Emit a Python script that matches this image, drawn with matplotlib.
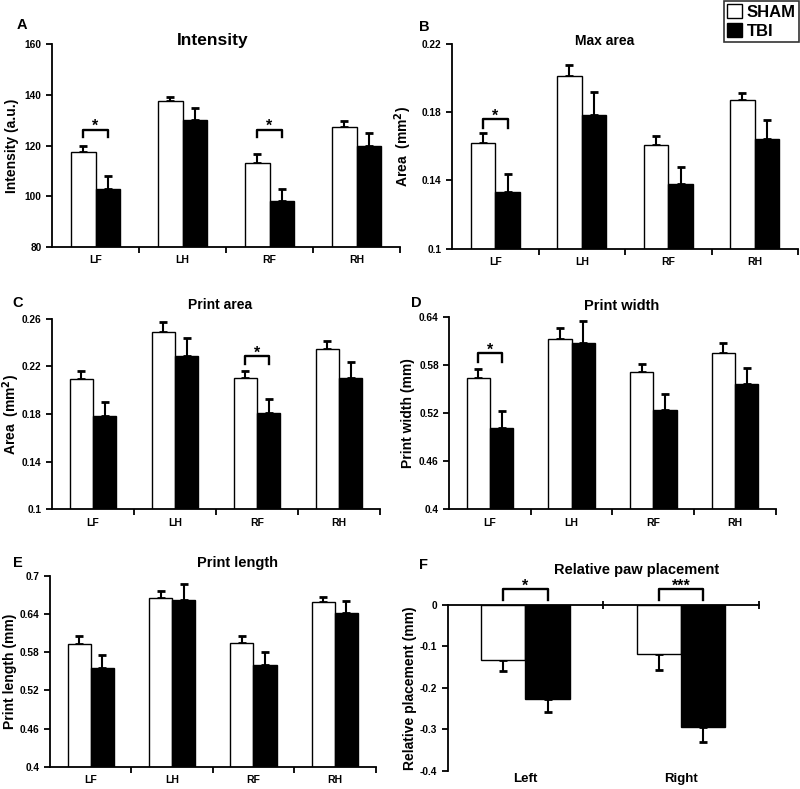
import numpy as np
import matplotlib
matplotlib.use("Agg")
import matplotlib.pyplot as plt
from matplotlib.patches import Patch

plt.rcParams["font.family"] = ["Liberation Sans", "DejaVu Sans"]
plt.rcParams["font.weight"] = "bold"

paws = ["LF", "LH", "RF", "RH"]
sides = ["Left", "Right"]

# A - intensity
int_sham = [117.5, 137.5, 113.0, 127.5]
int_sham_err = [2.2, 1.8, 3.7, 2.0]
int_tbi = [103.0, 130.0, 98.0, 120.0]
int_tbi_err = [4.8, 4.7, 4.7, 5.0]

# B - max area
max_sham = [0.162, 0.2016, 0.1606, 0.187]
max_sham_err = [0.006, 0.006, 0.0053, 0.0046]
max_tbi = [0.1333, 0.1784, 0.1378, 0.1641]
max_tbi_err = [0.0102, 0.0136, 0.0098, 0.0114]

# C - print area
pa_sham = [0.209, 0.2488, 0.2102, 0.2348]
pa_sham_err = [0.0074, 0.0082, 0.0062, 0.0065]
pa_tbi = [0.178, 0.2287, 0.1806, 0.2105]
pa_tbi_err = [0.012, 0.0153, 0.0117, 0.0129]

# D - print width
pw_sham = [0.5642, 0.6125, 0.5712, 0.595]
pw_sham_err = [0.0116, 0.0145, 0.0105, 0.0125]
pw_tbi = [0.5013, 0.6079, 0.5237, 0.5563]
pw_tbi_err = [0.0216, 0.0271, 0.0205, 0.0208]

# E - print length
pl_sham = [0.5925, 0.6659, 0.594, 0.6591]
pl_sham_err = [0.0126, 0.010, 0.0111, 0.0084]
pl_tbi = [0.5558, 0.6622, 0.56, 0.6413]
pl_tbi_err = [0.0199, 0.0257, 0.0199, 0.0194]

# F - relative paw placement
rp_sham = [-0.1333, -0.1189]
rp_sham_err = [0.0257, 0.0377]
rp_tbi = [-0.228, -0.294]
rp_tbi_err = [0.0298, 0.0377]

W = 0.285


def px(x, y):
    return x / 800, 1 - y / 789


def bars(ax, sham, sham_err, tbi, tbi_err, up=True):
    n = len(sham)
    c = np.arange(n) + 0.5
    for xs, vals, errs, fc in [(c - W / 2, sham, sham_err, "white"),
                               (c + W / 2, tbi, tbi_err, "black")]:
        ax.bar(xs, vals, W, color=fc, edgecolor="black", lw=1.0, zorder=2)
        z = [0] * n
        yerr = [z, errs] if up else [errs, z]
        ax.errorbar(xs, vals, yerr=yerr, fmt="none", ecolor="black",
                    elinewidth=1.5, capsize=2.8, capthick=2.0, zorder=1)
    ax.set_xlim(0, n)
    ax.set_xticks(np.arange(1, n + 1))
    ax.set_xticklabels([])
    ax.tick_params(axis="x", which="major", length=4, width=1.3, direction="out")
    ax.set_xticks(c, minor=True)
    for s in ["top", "right"]:
        ax.spines[s].set_visible(False)
    for s in ["left", "bottom"]:
        ax.spines[s].set_linewidth(1.3)
    ax.tick_params(axis="y", length=4, width=1.3, labelsize=7.3)
    return c


def bracket(ax, i, top, bottom, label="*"):
    x0, x1 = i + 0.5 - W / 2, i + 0.5 + W / 2
    ax.plot([x0, x0, x1, x1], [bottom, top, top, bottom], color="black",
            lw=1.7, clip_on=False, zorder=3)
    ax.annotate(label, (i + 0.5, top), xytext=(0, -3), textcoords="offset points",
                ha="center", va="bottom", fontsize=11.5, fontweight="bold",
                annotation_clip=False)


def ylab(ax, yt, text, lx):
    ax.set_yticks(yt)
    ax.set_yticklabels([f"{v:g}" for v in yt])
    ax.set_ylim(yt[0], yt[-1])
    ax.set_ylabel(text, fontsize=10, fontweight="bold")
    ax.yaxis.set_label_coords(lx, 0.5)


def xlab(ax, labels):
    ax.set_xticklabels(labels, minor=True, fontsize=7.5)
    ax.tick_params(axis="x", which="minor", length=0, pad=6)


fig = plt.figure(figsize=(8, 7.89), dpi=100)

axA = fig.add_axes([0.065, 0.687, 0.435, 0.257])
bars(axA, int_sham, int_sham_err, int_tbi, int_tbi_err)
xlab(axA, paws)
ylab(axA, [80, 100, 120, 140, 160], "Intensity (a.u.)", -0.095)
bracket(axA, 0, 126.2, 123.3)
bracket(axA, 2, 126.2, 123.3)
axA.text(0.463, 1.02, "Intensity", transform=axA.transAxes, ha="center",
         va="center", fontsize=12.5, fontweight="bold")

axB = fig.add_axes([0.565, 0.685, 0.4325, 0.259])
bars(axB, max_sham, max_sham_err, max_tbi, max_tbi_err)
xlab(axB, paws)
ylab(axB, [0.1, 0.14, 0.18, 0.22], "Area  (mm$^\\mathbf{2}$)", -0.11)
bracket(axB, 0, 0.1759, 0.171)
axB.text(0.442, 1.015, "Max area", transform=axB.transAxes, ha="center",
         va="center", fontsize=10, fontweight="bold")

axC = fig.add_axes([0.065, 0.3545, 0.41, 0.2416])
bars(axC, pa_sham, pa_sham_err, pa_tbi, pa_tbi_err)
xlab(axC, paws)
ylab(axC, [0.1, 0.14, 0.18, 0.22, 0.26], "Area  (mm$^\\mathbf{2}$)", -0.092)
bracket(axC, 2, 0.2284, 0.2217)
axC.text(0.512, 1.072, "Print area", transform=axC.transAxes, ha="center",
         va="center", fontsize=10, fontweight="bold")

axD = fig.add_axes([0.5616, 0.3545, 0.408, 0.2433])
bars(axD, pw_sham, pw_sham_err, pw_tbi, pw_tbi_err)
xlab(axD, paws)
ylab(axD, [0.4, 0.46, 0.52, 0.58, 0.64], "Print width (mm)", -0.104)
bracket(axD, 0, 0.595, 0.5838)
axD.text(0.528, 1.06, "Print width", transform=axD.transAxes, ha="center",
         va="center", fontsize=10.5, fontweight="bold")

axE = fig.add_axes([0.0625, 0.0283, 0.407, 0.2417])
bars(axE, pl_sham, pl_sham_err, pl_tbi, pl_tbi_err)
xlab(axE, paws)
ylab(axE, [0.4, 0.46, 0.52, 0.58, 0.64, 0.7], "Print length (mm)", -0.1)
axE.text(0.577, 1.07, "Print length", transform=axE.transAxes, ha="center",
         va="center", fontsize=10.5, fontweight="bold")

axF = fig.add_axes([0.5596, 0.0232, 0.389, 0.2104])
cF = bars(axF, rp_sham, rp_sham_err, rp_tbi, rp_tbi_err, up=False)
axF.spines["bottom"].set_position(("data", 0))
axF.tick_params(axis="x", which="major", direction="inout", length=6)
yt = [-0.4, -0.3, -0.2, -0.1, 0]
axF.set_yticks(yt)
axF.set_yticklabels([f"{v:g}" for v in yt])
axF.set_ylim(-0.4, 0)
axF.set_ylabel("Relative placement (mm)", fontsize=10, fontweight="bold")
axF.yaxis.set_label_coords(-0.1, 0.5)
for c, s in zip(cF, sides):
    axF.text(c, -0.405, s, ha="center", va="top", fontsize=9.5, fontweight="bold")
bracket(axF, 0, 0.037, 0.0104)
bracket(axF, 1, 0.037, 0.0104, "***")
axF.text(0.608, 1.21, "Relative paw placement", transform=axF.transAxes,
         ha="center", va="center", fontsize=10.5, fontweight="bold")

for lab, (x, y) in zip("ABCDEF", [(22, 25), (424, 27), (18, 303), (416, 303),
                                  (18, 563), (423, 565)]):
    fx, fy = px(x, y)
    fig.text(fx, fy, lab, ha="center", va="center", fontsize=10.5, fontweight="bold")

handles = [Patch(facecolor="white", edgecolor="black", label="SHAM"),
           Patch(facecolor="black", edgecolor="black", label="TBI")]
leg = fig.legend(handles=handles, loc="upper right", bbox_to_anchor=(0.999, 0.999),
                 fontsize=12, frameon=True, fancybox=False, handlelength=0.9,
                 handleheight=0.9, handletextpad=0.3, borderpad=0.2,
                 labelspacing=0.2, borderaxespad=0)
leg.get_frame().set_edgecolor("black")
leg.get_frame().set_linewidth(1.2)

fig.savefig("out.png", dpi=100)
